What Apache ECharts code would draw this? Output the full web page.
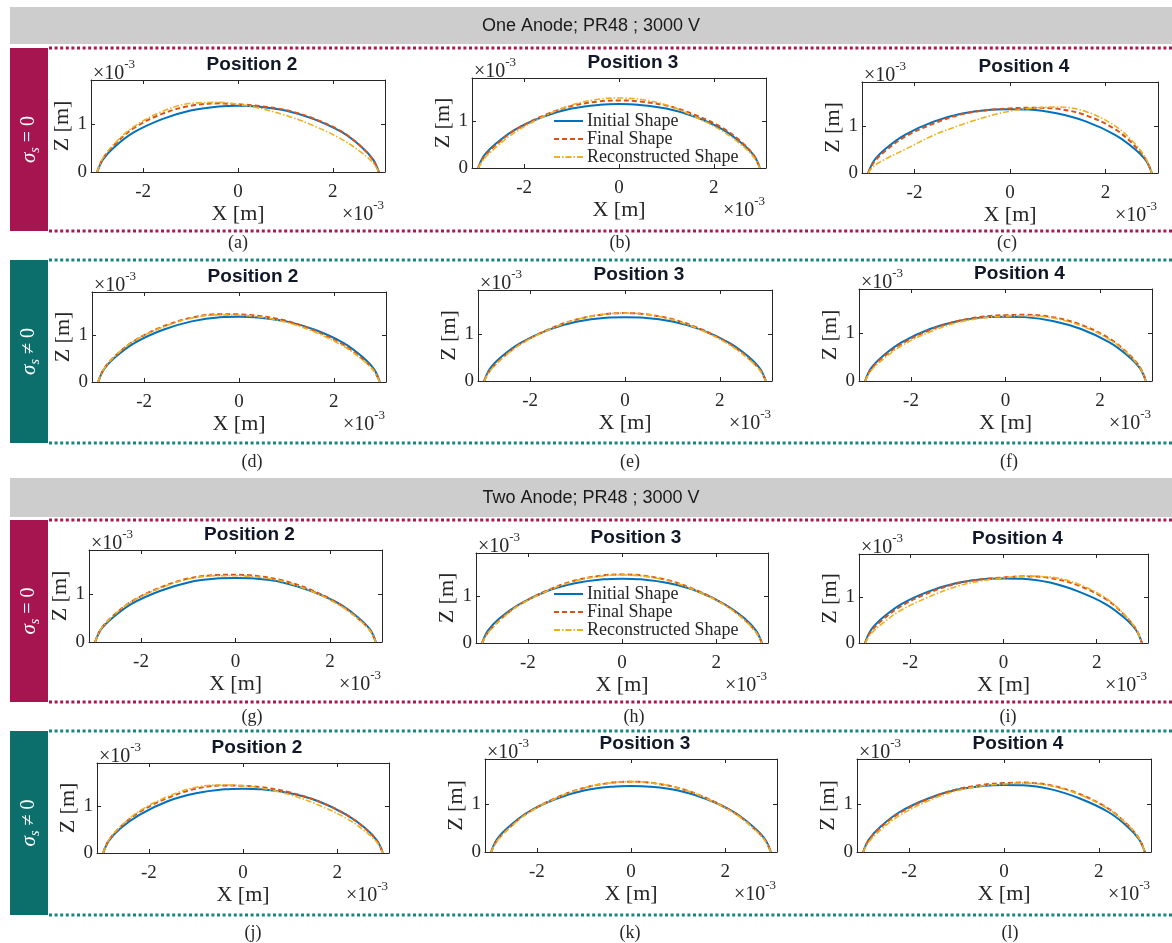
<!DOCTYPE html>
<html>
<head>
<meta charset="utf-8">
<script src="https://cdn.jsdelivr.net/npm/echarts@6/dist/echarts.min.js"></script>
<style>
  html, body { margin: 0; padding: 0; background: #ffffff; }
  #chart { width: 1172px; height: 943px; }
</style>
</head>
<body>
<div id="chart"></div>
<script>
// Drop profile abscissae shared by every curve (units of 1e-3 m)
const xs = [-2.97, -2.85, -2.6, -2.2, -1.6, -1.0, -0.4, 0, 0.4, 1.0, 1.6, 2.2, 2.6, 2.85, 2.97];

// Tick values (units of 1e-3 m)
const xTicks = [-2, 0, 2];
const zTicks = [0, 1];

// One anode, sigma_s = 0
const initA  = [0, 0.26, 0.53, 0.83, 1.11, 1.29, 1.375, 1.39, 1.375, 1.29, 1.11, 0.83, 0.53, 0.26, 0];
const finalA = [0, 0.28, 0.58, 0.92, 1.22, 1.39, 1.44, 1.42, 1.39, 1.30, 1.12, 0.84, 0.53, 0.25, 0];
const reconA = [0, 0.29, 0.60, 0.95, 1.27, 1.44, 1.46, 1.42, 1.35, 1.19, 0.97, 0.68, 0.41, 0.19, 0];

const initB  = [0, 0.26, 0.52, 0.82, 1.10, 1.275, 1.355, 1.37, 1.355, 1.275, 1.10, 0.82, 0.52, 0.26, 0];
const finalB = [0, 0.23, 0.49, 0.81, 1.12, 1.33, 1.43, 1.45, 1.43, 1.34, 1.14, 0.85, 0.54, 0.26, 0];
const reconB = [0, 0.19, 0.44, 0.76, 1.10, 1.35, 1.48, 1.50, 1.48, 1.35, 1.10, 0.78, 0.48, 0.22, 0];

const initC  = [0, 0.26, 0.52, 0.81, 1.09, 1.26, 1.34, 1.35, 1.345, 1.26, 1.09, 0.81, 0.52, 0.26, 0];
const finalC = [0, 0.23, 0.48, 0.77, 1.05, 1.25, 1.34, 1.37, 1.385, 1.36, 1.22, 0.93, 0.59, 0.28, 0];
const reconC = [0, 0.15, 0.30, 0.50, 0.80, 1.03, 1.22, 1.31, 1.37, 1.40, 1.30, 1.00, 0.64, 0.30, 0];

// One anode, sigma_s != 0
const initD  = [0, 0.27, 0.54, 0.84, 1.12, 1.30, 1.39, 1.40, 1.385, 1.30, 1.12, 0.84, 0.54, 0.27, 0];
const finalD = [0, 0.28, 0.57, 0.89, 1.19, 1.38, 1.455, 1.45, 1.42, 1.31, 1.10, 0.80, 0.50, 0.24, 0];
const reconD = [0, 0.28, 0.57, 0.89, 1.18, 1.37, 1.44, 1.43, 1.40, 1.28, 1.07, 0.77, 0.48, 0.23, 0];

const initE  = [0, 0.26, 0.52, 0.81, 1.09, 1.26, 1.34, 1.35, 1.34, 1.26, 1.09, 0.81, 0.52, 0.26, 0];
const finalE = [0, 0.22, 0.48, 0.79, 1.10, 1.31, 1.42, 1.44, 1.42, 1.31, 1.10, 0.79, 0.49, 0.23, 0];
const reconE = [0, 0.21, 0.47, 0.78, 1.09, 1.31, 1.42, 1.44, 1.42, 1.30, 1.08, 0.77, 0.47, 0.22, 0];

const initF  = [0, 0.26, 0.52, 0.81, 1.09, 1.26, 1.34, 1.35, 1.34, 1.26, 1.09, 0.81, 0.52, 0.26, 0];
const finalF = [0, 0.24, 0.49, 0.78, 1.07, 1.26, 1.36, 1.38, 1.39, 1.34, 1.18, 0.89, 0.57, 0.28, 0];
const reconF = [0, 0.21, 0.45, 0.74, 1.03, 1.23, 1.33, 1.36, 1.37, 1.32, 1.16, 0.87, 0.56, 0.27, 0];

// Two anode, sigma_s = 0
const initG  = [0, 0.26, 0.51, 0.80, 1.07, 1.25, 1.33, 1.34, 1.33, 1.25, 1.07, 0.80, 0.51, 0.26, 0];
const finalG = [0, 0.27, 0.54, 0.85, 1.14, 1.33, 1.405, 1.41, 1.39, 1.29, 1.09, 0.79, 0.49, 0.24, 0];
const reconG = [0, 0.27, 0.54, 0.85, 1.13, 1.32, 1.39, 1.39, 1.37, 1.27, 1.07, 0.77, 0.48, 0.23, 0];

const initH  = [0, 0.26, 0.53, 0.82, 1.11, 1.28, 1.365, 1.38, 1.365, 1.28, 1.11, 0.82, 0.53, 0.26, 0];
const finalH = [0, 0.22, 0.49, 0.81, 1.12, 1.34, 1.45, 1.47, 1.45, 1.34, 1.12, 0.81, 0.50, 0.23, 0];
const reconH = [0, 0.21, 0.48, 0.80, 1.11, 1.33, 1.44, 1.46, 1.44, 1.33, 1.11, 0.80, 0.49, 0.22, 0];

const initI  = [0, 0.27, 0.54, 0.84, 1.12, 1.30, 1.39, 1.40, 1.395, 1.31, 1.12, 0.84, 0.54, 0.27, 0];
const finalI = [0, 0.24, 0.50, 0.80, 1.09, 1.29, 1.39, 1.42, 1.445, 1.41, 1.25, 0.95, 0.60, 0.29, 0];
const reconI = [0, 0.19, 0.42, 0.71, 1.00, 1.23, 1.36, 1.41, 1.45, 1.43, 1.28, 0.97, 0.61, 0.29, 0];

// Two anode, sigma_s != 0
const initJ  = [0, 0.26, 0.53, 0.82, 1.11, 1.28, 1.365, 1.38, 1.365, 1.28, 1.11, 0.82, 0.53, 0.26, 0];
const finalJ = [0, 0.27, 0.56, 0.88, 1.18, 1.38, 1.45, 1.44, 1.41, 1.30, 1.11, 0.82, 0.52, 0.25, 0];
const reconJ = [0, 0.28, 0.57, 0.90, 1.21, 1.41, 1.46, 1.44, 1.39, 1.25, 1.03, 0.74, 0.46, 0.22, 0];

const initK  = [0, 0.26, 0.52, 0.82, 1.10, 1.275, 1.355, 1.37, 1.355, 1.275, 1.10, 0.82, 0.52, 0.26, 0];
const finalK = [0, 0.23, 0.49, 0.81, 1.12, 1.33, 1.44, 1.46, 1.44, 1.33, 1.12, 0.81, 0.50, 0.24, 0];
const reconK = [0, 0.22, 0.48, 0.80, 1.11, 1.33, 1.44, 1.46, 1.44, 1.33, 1.11, 0.80, 0.49, 0.23, 0];

const initL  = [0, 0.26, 0.53, 0.83, 1.11, 1.29, 1.375, 1.39, 1.385, 1.30, 1.11, 0.83, 0.53, 0.26, 0];
const finalL = [0, 0.25, 0.51, 0.81, 1.10, 1.30, 1.40, 1.43, 1.44, 1.38, 1.20, 0.90, 0.57, 0.28, 0];
const reconL = [0, 0.21, 0.46, 0.76, 1.06, 1.27, 1.38, 1.41, 1.43, 1.37, 1.19, 0.89, 0.57, 0.28, 0];

const seriesNames = ['Initial Shape', 'Final Shape', 'Reconstructed Shape'];
const headers = ['One Anode; PR48 ; 3000 V', 'Two Anode; PR48 ; 3000 V'];

// Panel layout: plot box [left, top, width, height] and caption position
const panels = [
  { tag: '(a)', title: 'Position 2', curves: [initA, finalA, reconA], box: [91, 80, 294, 92],  cap: [238, 243] },
  { tag: '(b)', title: 'Position 3', curves: [initB, finalB, reconB], box: [472, 78, 294, 90], cap: [620, 243] },
  { tag: '(c)', title: 'Position 4', curves: [initC, finalC, reconC], box: [862, 82, 296, 91], cap: [1007, 243] },
  { tag: '(d)', title: 'Position 2', curves: [initD, finalD, reconD], box: [92, 292, 294, 90], cap: [252, 462] },
  { tag: '(e)', title: 'Position 3', curves: [initE, finalE, reconE], box: [478, 290, 294, 91], cap: [630, 462] },
  { tag: '(f)', title: 'Position 4', curves: [initF, finalF, reconF], box: [859, 289, 293, 92], cap: [1009, 462] },
  { tag: '(g)', title: 'Position 2', curves: [initG, finalG, reconG], box: [89, 550, 293, 92],  cap: [252, 717] },
  { tag: '(h)', title: 'Position 3', curves: [initH, finalH, reconH], box: [476, 553, 292, 90], cap: [634, 717] },
  { tag: '(i)', title: 'Position 4', curves: [initI, finalI, reconI], box: [859, 554, 289, 89], cap: [1008, 717] },
  { tag: '(j)', title: 'Position 2', curves: [initJ, finalJ, reconJ], box: [97, 763, 292, 90],  cap: [253, 933] },
  { tag: '(k)', title: 'Position 3', curves: [initK, finalK, reconK], box: [485, 759, 292, 93], cap: [630, 933] },
  { tag: '(l)', title: 'Position 4', curves: [initL, finalL, reconL], box: [857, 759, 294, 93], cap: [1010, 933] }
];

// Row bands: side bar / dotted frame
const rows = [
  { top: 48,  bottom: 231, kind: 'eq' },
  { top: 260, bottom: 443, kind: 'ne' },
  { top: 520, bottom: 702, kind: 'eq' },
  { top: 731, bottom: 915, kind: 'ne' }
];

const X_MIN = -3.1, X_MAX = 3.1, Z_MIN = 0, Z_MAX = 1.93;
const INK = '#262626';
const SERIF = '"Liberation Serif", "Times New Roman", serif';
const SANS = '"Liberation Sans", Arial, sans-serif';
const lineStyles = [
  { color: '#0072BD', width: 2, type: 'solid' },
  { color: '#D95319', width: 2, type: [5, 3] },
  { color: '#EDB120', width: 1.6, type: [6, 2, 1.5, 2] }
];
const palette = {
  eq: { bar: '#A6154F', dots: '#A8184F' },
  ne: { bar: '#0D6F6B', dots: '#168580' }
};

const grid = [], xAxis = [], yAxis = [], series = [], graphic = [];

// Header bands
[[7, 44, headers[0]], [478, 517, headers[1]]].forEach(([y0, y1, text]) => {
  graphic.push({ type: 'rect', shape: { x: 10, y: y0, width: 1162, height: y1 - y0 }, style: { fill: '#CDCDCD' }, silent: true });
  graphic.push({ type: 'text', x: 591, y: (y0 + y1) / 2 + 1,
    style: { text, fill: '#1a1a1a', font: '18px ' + SANS, textAlign: 'center', textVerticalAlign: 'middle', align: 'center', verticalAlign: 'middle' }, silent: true });
});

// Side bars and dotted frames
rows.forEach(r => {
  const c = palette[r.kind];
  graphic.push({ type: 'rect', shape: { x: 10, y: r.top, width: 38, height: r.bottom - r.top }, style: { fill: c.bar }, silent: true });
  [r.top, r.bottom].forEach(y => graphic.push({
    type: 'line', shape: { x1: 49, y1: y, x2: 1172, y2: y },
    style: { stroke: c.dots, lineWidth: 3, lineDash: [3, 2.6] }, silent: true
  }));
  const rel = r.kind === 'eq' ? ' = 0' : ' \u2260 0';
  graphic.push({
    type: 'text', x: 29, y: (r.top + r.bottom) / 2, rotation: Math.PI / 2,
    style: {
      text: '{g|\u03c3}{s|s}{t|' + rel + '}',
      textAlign: 'center', textVerticalAlign: 'middle', align: 'center', verticalAlign: 'middle',
      rich: {
        g: { fill: '#ffffff', fontFamily: SERIF, fontStyle: 'italic', fontSize: 21, lineHeight: 26, verticalAlign: 'middle' },
        s: { fill: '#ffffff', fontFamily: SERIF, fontStyle: 'italic', fontSize: 14, lineHeight: 14, verticalAlign: 'bottom' },
        t: { fill: '#ffffff', fontFamily: SERIF, fontSize: 20, lineHeight: 26, verticalAlign: 'middle' }
      }
    }, silent: true
  });
});

function exponentText(x, y, align) {
  return {
    type: 'text', x, y,
    style: {
      text: '{m|\u00d710}{e|-3}',
      textAlign: align, textVerticalAlign: 'middle', align, verticalAlign: 'middle',
      rich: {
        m: { fill: INK, fontFamily: SERIF, fontSize: 20, lineHeight: 26, verticalAlign: 'bottom' },
        e: { fill: INK, fontFamily: SERIF, fontSize: 13, lineHeight: 13, verticalAlign: 'top' }
      }
    }, silent: true
  };
}

panels.forEach((p, i) => {
  const [l, t, w, h] = p.box;
  grid.push({ left: l, top: t, width: w, height: h, show: false });

  const axisLine = { show: true, onZero: false, lineStyle: { color: INK, width: 1 } };
  const tickX = { show: true, inside: true, length: 4, customValues: xTicks, lineStyle: { color: INK } };
  const tickZ = { show: true, inside: true, length: 4, customValues: zTicks, lineStyle: { color: INK } };
  const common = { type: 'value', gridIndex: i, splitLine: { show: false }, axisLine };

  xAxis.push(Object.assign({}, common, {
    position: 'bottom', min: X_MIN, max: X_MAX, axisTick: tickX,
    axisLabel: { customValues: xTicks, color: INK, fontFamily: SERIF, fontSize: 19, margin: 11 },
    name: 'X [m]', nameLocation: 'middle', nameGap: 31,
    nameTextStyle: { color: INK, fontFamily: SERIF, fontSize: 22 }
  }));
  xAxis.push(Object.assign({}, common, {
    position: 'top', min: X_MIN, max: X_MAX, axisTick: tickX, axisLabel: { show: false }
  }));
  yAxis.push(Object.assign({}, common, {
    position: 'left', min: Z_MIN, max: Z_MAX, axisTick: tickZ,
    axisLabel: { customValues: zTicks, color: INK, fontFamily: SERIF, fontSize: 19, margin: 4 },
    name: 'Z [m]', nameLocation: 'middle', nameGap: 17, nameRotate: 90,
    nameTextStyle: { color: INK, fontFamily: SERIF, fontSize: 22 }
  }));
  yAxis.push(Object.assign({}, common, {
    position: 'right', min: Z_MIN, max: Z_MAX, axisTick: tickZ, axisLabel: { show: false }
  }));

  p.curves.forEach((zs, k) => {
    series.push({
      type: 'line', name: seriesNames[k],
      xAxisIndex: 2 * i, yAxisIndex: 2 * i,
      data: xs.map((x, j) => [x, zs[j]]),
      smooth: 0.35, symbol: 'none', silent: true,
      lineStyle: lineStyles[k], itemStyle: { color: lineStyles[k].color },
      z: 2 + k
    });
  });

  // Panel heading, exponent notes and caption
  graphic.push({ type: 'text', x: l + w / 2 + 14, y: t - 15,
    style: { text: p.title, fill: '#101828', font: 'bold 19px ' + SANS, textAlign: 'center', textVerticalAlign: 'middle', align: 'center', verticalAlign: 'middle' }, silent: true });
  graphic.push(exponentText(l + 2, t - 9, 'left'));
  graphic.push(exponentText(l + w - 1, t + h + 40, 'right'));
  graphic.push({ type: 'text', x: p.cap[0], y: p.cap[1],
    style: { text: p.tag, fill: INK, font: '18px ' + SERIF, textAlign: 'center', textVerticalAlign: 'middle', align: 'center', verticalAlign: 'middle' }, silent: true });
});

// Legend keys drawn as bare line samples (no point marker)
const legendBase = {
  data: seriesNames, orient: 'vertical', itemWidth: 29, itemHeight: 12, itemGap: 0, padding: 0,
  selectedMode: false, itemStyle: { opacity: 0 },
  textStyle: { color: INK, fontFamily: SERIF, fontSize: 18, lineHeight: 18, padding: [0, 0, 0, -1] }
};

const chart = echarts.init(document.getElementById('chart'), null, { renderer: 'canvas' });
chart.setOption({
  backgroundColor: '#ffffff',
  animation: false,
  grid, xAxis, yAxis, series,
  legend: [
    Object.assign({}, legendBase, { left: 553, top: 112 }),
    Object.assign({}, legendBase, { left: 553, top: 585 })
  ],
  graphic
});
</script>
</body>
</html>
